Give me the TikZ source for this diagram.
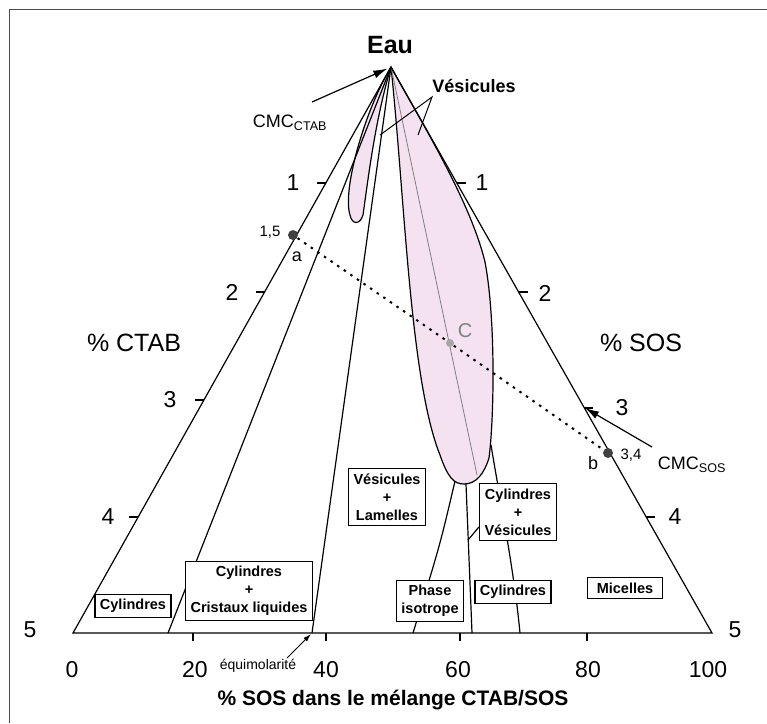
\documentclass[tikz,border=0pt]{standalone}
\usepackage{fontspec}
\setmainfont{Liberation Sans}
\usetikzlibrary{arrows.meta}

\definecolor{rose}{RGB}{244,226,240}

\begin{document}
\begin{tikzpicture}[x=1pt, y=-1pt, line width=1.2pt,
  phase/.style={draw, fill=white, line width=1.3pt, align=center, inner xsep=5pt, inner ysep=5pt, font=\fontsize{14.5}{18}\selectfont\bfseries},
  num/.style={font=\fontsize{23}{23}\selectfont},
  titre/.style={font=\fontsize{25}{25}\selectfont},
  petit/.style={font=\fontsize{15}{15}\selectfont},
  point/.style={circle, fill=black!75, inner sep=0pt, minimum size=10pt},
  fleche/.style={-{Latex[length=14pt,width=8pt]}, line width=1.2pt}]

  \useasboundingbox (0,0) rectangle (767,723);

  % cadre du scan
  \draw[line width=1pt, black!70] (9,723) -- (9,9) -- (767,9);

  % sommets du triangle
  \coordinate (eau) at (391,67);
  \coordinate (ctab) at (73,633);
  \coordinate (sos) at (712,633);

  % domaines de vesicules (rose)
  \draw[fill=rose] (eau) .. controls (405,200) and (410,380) .. (440,455)
    .. controls (448,478) and (454,484) .. (464,484)
    .. controls (476,484) and (484,474) .. (489,458)
    .. controls (494,420) and (496,320) .. (485,262)
    .. controls (470,200) and (420,120) .. (eau);
  \draw[fill=rose] (eau) .. controls (365,110) and (342,190) .. (350,215)
    .. controls (352,225) and (360,225) .. (363,215)
    .. controls (368,180) and (375,120) .. (eau);
  \draw[gray, line width=0.8pt] (eau) -- (477,475);

  % triangle et frontieres
  \draw (eau) -- (ctab) -- (sos) -- cycle;
  \draw (eau) -- (168,633);
  \draw (eau) -- (312,633);
  \draw (455,481) .. controls (440,545) .. (413,633);
  \draw (466,484) -- (472,633);
  \draw (491,445) .. controls (500,500) and (514,570) .. (520,633);

  % graduations
  \foreach \y in {183,292,400,517}
    \draw ({391-0.5618*(\y-67)},\y) -- ++(-9,0);
  \foreach \y in {183,292,408,517}
    \draw ({391+0.5671*(\y-67)},\y) -- ++(9,0);
  \foreach \x in {193,326,460,587}
    \draw (\x,633) -- ++(0,8);

  \node[num] at (293,183) {1};
  \node[num] at (232,292) {2};
  \node[num] at (170,400) {3};
  \node[num] at (108,517) {4};
  \node[num] at (30,630) {5};
  \node[num] at (482,183) {1};
  \node[num] at (545,293) {2};
  \node[num] at (622,408) {3};
  \node[num] at (675,517) {4};
  \node[num] at (735,630) {5};
  \node[num] at (72,670) {0};
  \node[num] at (195,670) {20};
  \node[num] at (326,670) {40};
  \node[num] at (458,670) {60};
  \node[num] at (588,670) {80};
  \node[num] at (708,670) {100};

  % titres
  \node[titre, font=\fontsize{25}{25}\selectfont\bfseries] (eaulab) at (390,45) {Eau};
  \node[titre] (ctablab) at (134,343) {\% CTAB};
  \node[titre] (soslab) at (641,343) {\% SOS};
  \node[font=\fontsize{21}{21}\selectfont\bfseries] (axe) at (393,700) {\% SOS dans le mélange CTAB/SOS};

  % droite de dilution a -- b
  \node[point] (a) at (293,235) {};
  \node[point] (b) at (608,453) {};
  \node[point, fill=gray!70, minimum size=8pt] (c) at (450,343) {};
  \draw[line width=2pt, dash pattern=on 2.5pt off 5.5pt] (a) -- (c) -- (b);
  \node[petit] at (270,232) {1,5};
  \node[font=\fontsize{18}{18}\selectfont] at (297,257) {a};
  \node[petit] at (631,455) {3,4};
  \node[font=\fontsize{18}{18}\selectfont] at (593,463) {b};
  \node[font=\fontsize{20}{20}\selectfont, gray] at (465,331) {C};

  % CMC et equimolarite
  \node[font=\fontsize{18}{18}\selectfont] (cmcctab) at (290,123) {CMC\textsubscript{CTAB}};
  \coordinate (cmcctabpt) at (312,102);
  \draw[fleche, shorten >=4pt] (cmcctabpt) -- (eau);
  \node[font=\fontsize{18}{18}\selectfont] (cmcsos) at (692,465) {CMC\textsubscript{SOS}};
  \coordinate (cmcsospt) at (652,447);
  \coordinate (sos3) at (585,408);
  \draw[fleche] (cmcsospt) -- (sos3);
  \node[font=\fontsize{14}{14}\selectfont] (equi) at (258,666) {équimolarité};
  \coordinate (equipt) at (287,658);
  \coordinate (equi40) at (311,634);
  \draw[-{Latex[length=8pt,width=5pt]}, line width=1pt] (equipt) -- (equi40);

  % vesicules
  \node[font=\fontsize{18}{18}\selectfont\bfseries] (ves) at (474,86) {Vésicules};
  \coordinate (vespt) at (432,97);
  \coordinate (ves1) at (380,135);
  \coordinate (ves2) at (418,135);
  \draw[line width=1pt] (ves1) -- (vespt) -- (ves2);

  % domaines
  \node[phase] (cyl1) at (133,606) {Cylindres};
  \node[phase] (cylcl) at (249,591) {Cylindres\\+\\Cristaux liquides};
  \node[phase] (vesla) at (387,497) {Vésicules\\+\\Lamelles};
  \node[phase] (phiso) at (430,601) {Phase\\isotrope};
  \node[phase] (cylves) at (518,512) {Cylindres\\+\\Vésicules};
  \node[phase] (cyl2) at (513,592) {Cylindres};
  \node[phase, line width=1pt, minimum width=75pt] (mic) at (625,588) {Micelles};
  \coordinate (br) at (468,540);
  \draw (br) -- ([yshift=-15pt]cylves.west);

\end{tikzpicture}
\end{document}
